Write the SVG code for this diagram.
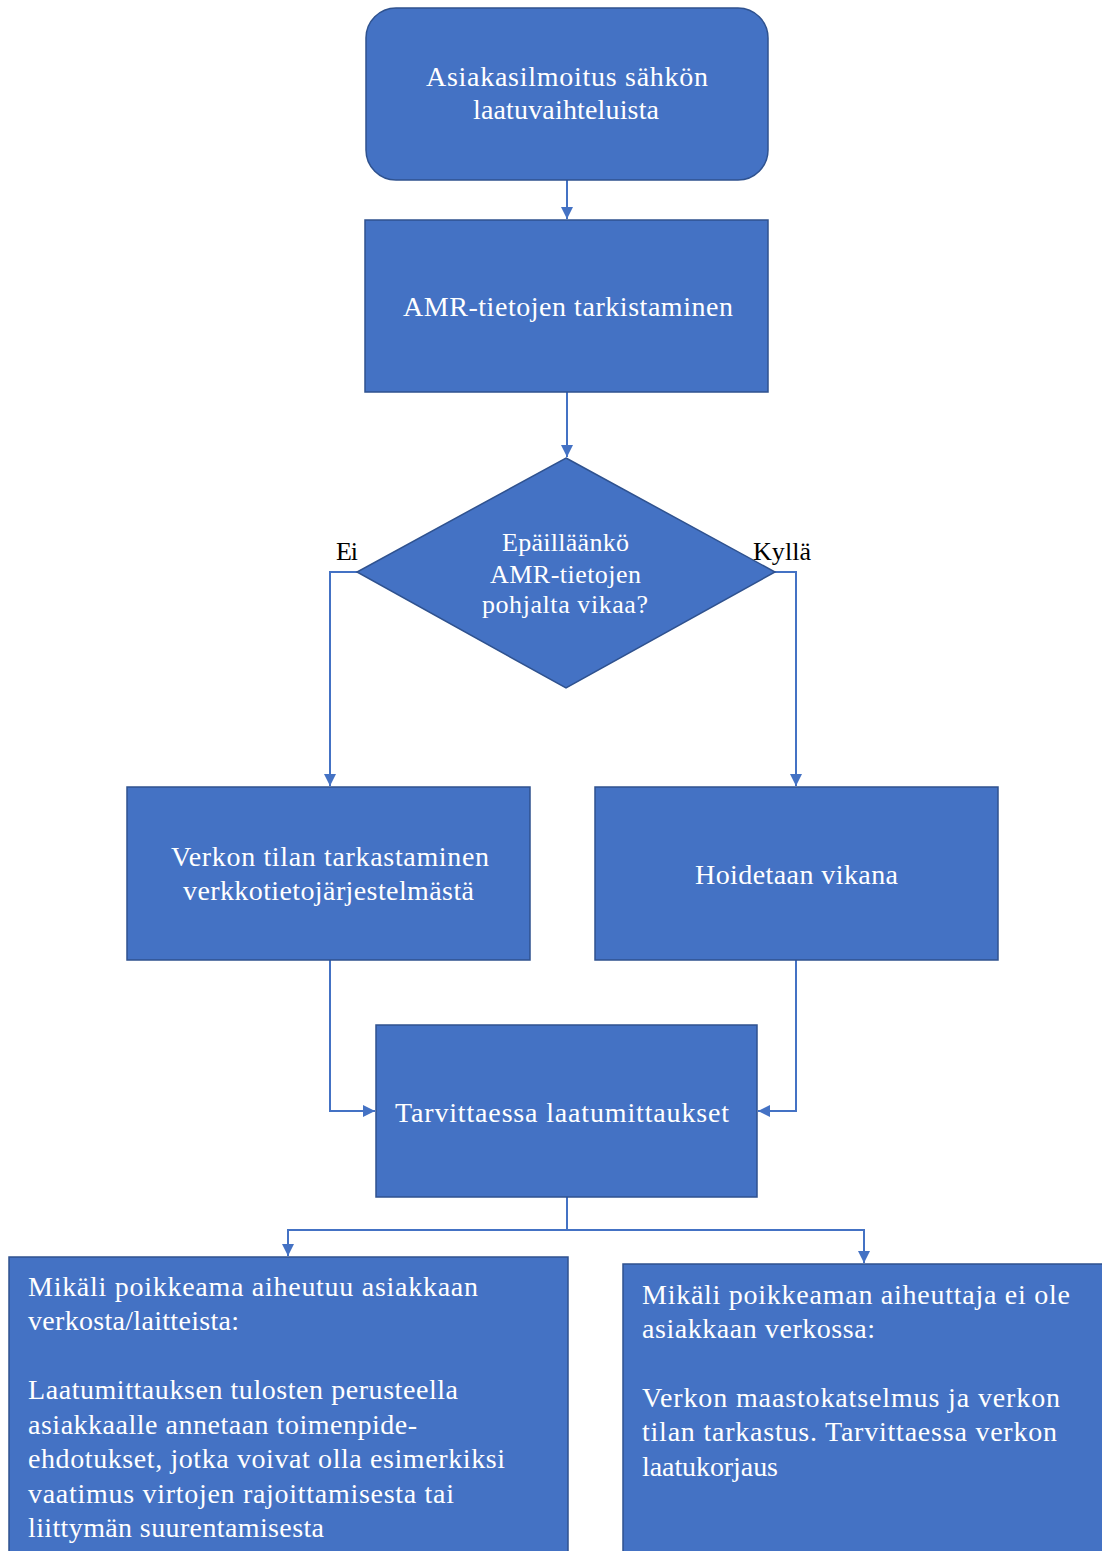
<svg xmlns="http://www.w3.org/2000/svg" width="1102" height="1551" viewBox="0 0 1102 1551">
<style>
.box{fill:#4472C4;stroke:#2F528F;stroke-width:1.5}
.t{fill:#fff;font-family:"Liberation Serif","Times New Roman",serif;font-size:28px}
.d{font-size:26px}
.c{text-anchor:middle}
.lbl{fill:#000;font-family:"Liberation Serif","Times New Roman",serif;font-size:26px}
.con{fill:none;stroke:#4472C4;stroke-width:2}
</style>
<defs>
<marker id="ah" viewBox="0 0 10 10" refX="10" refY="5" markerWidth="6" markerHeight="6" markerUnits="strokeWidth" orient="auto">
<path d="M0,0 L10,5 L0,10 z" fill="#4472C4"/>
</marker>
</defs>
<rect width="1102" height="1551" fill="#fff"/>
<g id="connectors">
<path class="con" d="M567,180 V219" marker-end="url(#ah)"/>
<path class="con" d="M567,392 V457" marker-end="url(#ah)"/>
<path class="con" d="M357,572 H330 V786" marker-end="url(#ah)"/>
<path class="con" d="M775,572 H796 V786" marker-end="url(#ah)"/>
<path class="con" d="M330,960 V1111 H375" marker-end="url(#ah)"/>
<path class="con" d="M796,960 V1111 H758" marker-end="url(#ah)"/>
<path class="con" d="M567,1197 V1230 H288 V1256" marker-end="url(#ah)"/>
<path class="con" d="M567,1230 H864 V1263" marker-end="url(#ah)"/>
</g>
<g id="n1">
<rect class="box" x="366" y="8" width="402" height="172" rx="30"/>
<text class="t c" x="567" y="86" textLength="282" lengthAdjust="spacing">Asiakasilmoitus sähkön</text>
<text class="t c" x="566" y="119" textLength="186" lengthAdjust="spacing">laatuvaihteluista</text>
</g>
<g id="n2">
<rect class="box" x="365" y="220" width="403" height="172"/>
<text class="t c" x="568" y="316" textLength="330" lengthAdjust="spacing">AMR-tietojen tarkistaminen</text>
</g>
<g id="n3">
<polygon class="box" points="566,458 775,572 566,688 357,572"/>
<text class="t c d" x="565.5" y="551" textLength="127" lengthAdjust="spacing">Epäilläänkö</text>
<text class="t c d" x="565.5" y="583" textLength="151" lengthAdjust="spacing">AMR-tietojen</text>
<text class="t c d" x="565" y="613" textLength="166" lengthAdjust="spacing">pohjalta vikaa?</text>
</g>
<g id="lbl-ei"><text class="lbl" x="336" y="560" textLength="22" lengthAdjust="spacing">Ei</text></g>
<g id="lbl-kylla"><text class="lbl" x="753" y="560" textLength="58" lengthAdjust="spacing">Kyllä</text></g>
<g id="n4">
<rect class="box" x="127" y="787" width="403" height="173"/>
<text class="t c" x="330" y="866" textLength="318" lengthAdjust="spacing">Verkon tilan tarkastaminen</text>
<text class="t c" x="328.5" y="900" textLength="291" lengthAdjust="spacing">verkkotietojärjestelmästä</text>
</g>
<g id="n5">
<rect class="box" x="595" y="787" width="403" height="173"/>
<text class="t c" x="796.5" y="884" textLength="203" lengthAdjust="spacing">Hoidetaan vikana</text>
</g>
<g id="n6">
<rect class="box" x="376" y="1025" width="381" height="172"/>
<text class="t c" x="562" y="1122" textLength="334" lengthAdjust="spacing">Tarvittaessa laatumittaukset</text>
</g>
<g id="n7">
<rect class="box" x="9" y="1257" width="559" height="310"/>
<text class="t" x="28" y="1296" textLength="450" lengthAdjust="spacing">Mikäli poikkeama aiheutuu asiakkaan</text>
<text class="t" x="28" y="1330" textLength="211" lengthAdjust="spacing">verkosta/laitteista:</text>
<text class="t" x="28" y="1399" textLength="430" lengthAdjust="spacing">Laatumittauksen tulosten perusteella</text>
<text class="t" x="28" y="1434" textLength="389" lengthAdjust="spacing">asiakkaalle annetaan toimenpide-</text>
<text class="t" x="28" y="1468" textLength="477" lengthAdjust="spacing">ehdotukset, jotka voivat olla esimerkiksi</text>
<text class="t" x="28" y="1503" textLength="426" lengthAdjust="spacing">vaatimus virtojen rajoittamisesta tai</text>
<text class="t" x="28" y="1537" textLength="296" lengthAdjust="spacing">liittymän suurentamisesta</text>
</g>
<g id="n8">
<rect class="box" x="623" y="1264" width="490" height="310"/>
<text class="t" x="642" y="1304" textLength="428" lengthAdjust="spacing">Mikäli poikkeaman aiheuttaja ei ole</text>
<text class="t" x="642" y="1338" textLength="233" lengthAdjust="spacing">asiakkaan verkossa:</text>
<text class="t" x="642" y="1407" textLength="418" lengthAdjust="spacing">Verkon maastokatselmus ja verkon</text>
<text class="t" x="642" y="1441" textLength="415" lengthAdjust="spacing">tilan tarkastus. Tarvittaessa verkon</text>
<text class="t" x="642" y="1476" textLength="136" lengthAdjust="spacing">laatukorjaus</text>
</g>
</svg>
